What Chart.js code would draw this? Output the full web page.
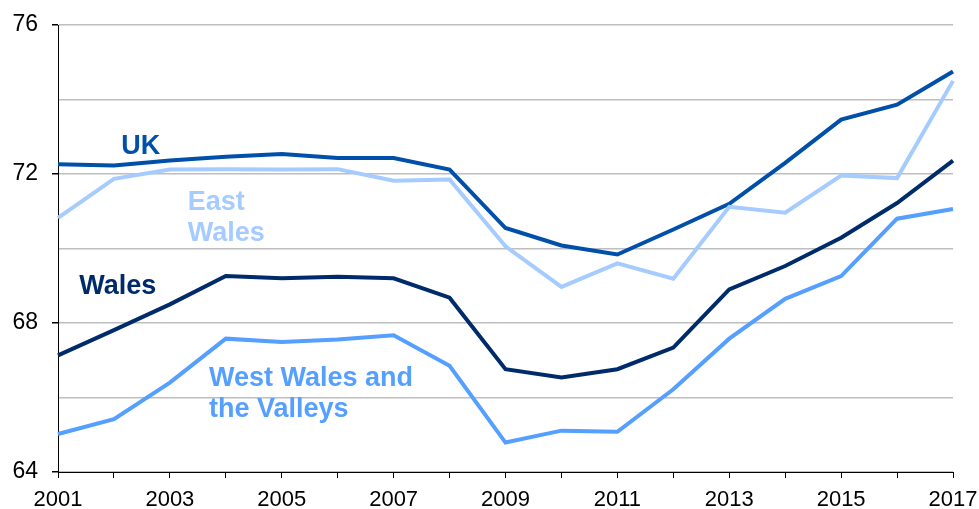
<!DOCTYPE html>
<html>
<head>
<meta charset="utf-8">
<script src="https://cdn.jsdelivr.net/npm/chart.js@4/dist/chart.umd.min.js"></script>
<style>
  html, body { margin: 0; padding: 0; background: #fff; }
  #wrap { width: 979px; height: 509px; }
</style>
</head>
<body>
<div id="wrap"><canvas id="linegraph" width="979" height="509"></canvas></div>
<script>
const years = ['2001','2002','2003','2004','2005','2006','2007','2008','2009','2010','2011','2012','2013','2014','2015','2016','2017'];
const uk        = [72.26, 72.23, 72.36, 72.46, 72.54, 72.43, 72.43, 72.12, 70.55, 70.08, 69.84, 70.51, 71.20, 72.30, 73.46, 73.86, 74.75];
const eastWales = [70.82, 71.87, 72.12, 72.13, 72.12, 72.13, 71.82, 71.85, 70.06, 68.97, 69.60, 69.19, 71.12, 70.96, 71.96, 71.89, 74.50];
const wales     = [67.13, 67.81, 68.50, 69.26, 69.20, 69.24, 69.20, 68.68, 66.76, 66.54, 66.76, 67.34, 68.90, 69.53, 70.29, 71.22, 72.36];
const westWales = [65.02, 65.42, 66.40, 67.58, 67.49, 67.56, 67.67, 66.85, 64.79, 65.11, 65.08, 66.22, 67.58, 68.65, 69.26, 70.80, 71.06];
const yTicks = [64, 68, 72, 76];

const colUK = '#0050AA';
const colEast = '#A6CBFF';
const colWales = '#002B6B';
const colWest = '#559FFF';

// series labels placed inside the plot, anchored in data space
const seriesLabels = [
  { lines: ['UK'], x: 1.13, y: 72.54, color: colUK },
  { lines: ['East', 'Wales'], x: 2.32, y: 71.04, color: colEast },
  { lines: ['Wales'], x: 0.38, y: 68.77, color: colWales },
  { lines: ['West Wales and', 'the Valleys'], x: 2.70, y: 66.30, color: colWest },
];

const labelPlugin = {
  id: 'seriesLabels',
  afterDatasetsDraw(chart) {
    const ctx = chart.ctx;
    const xs = chart.scales.x, ys = chart.scales.y;
    ctx.save();
    ctx.font = 'bold 27px "Liberation Sans", Arial, sans-serif';
    ctx.textAlign = 'left';
    ctx.textBaseline = 'alphabetic';
    seriesLabels.forEach(l => {
      const px = xs.getPixelForValue(l.x);
      const py = ys.getPixelForValue(l.y);
      ctx.fillStyle = l.color;
      l.lines.forEach((t, i) => ctx.fillText(t, px, py + i * 31));
    });
    ctx.restore();
  }
};

const line = (data, color) => ({
  data: data,
  borderColor: color,
  backgroundColor: color,
  borderWidth: 4,
  pointRadius: 0,
  tension: 0,
});

new Chart(document.querySelector('#linegraph').getContext('2d'), {
  type: 'line',
  data: {
    labels: years,
    datasets: [
      line(westWales, colWest),
      line(wales, colWales),
      line(eastWales, colEast),
      line(uk, colUK),
    ],
  },
  options: {
    responsive: false,
    animation: false,
    layout: { padding: { top: 25, right: 0, left: 0, bottom: 0 } },
    plugins: {
      legend: { display: false },
      tooltip: { enabled: false },
    },
    scales: {
      x: {
        offset: false,
        grid: {
          drawOnChartArea: false,
          drawTicks: true,
          tickLength: 6,
          tickColor: '#000',
        },
        border: { color: '#000', width: 1 },
        ticks: {
          autoSkip: false,
          maxRotation: 0,
          padding: 9,
          color: '#000',
          font: { family: '"Liberation Sans", Arial, sans-serif', size: 22 },
          callback: function (v, i) { return i % 2 === 0 ? years[i] : ''; },
        },
        afterFit(scale) {
          scale.height = 37;
          scale.paddingRight = 26;
          scale.paddingLeft = 0;
        },
      },
      y: {
        min: 64,
        max: 76,
        grid: {
          color: '#BEBEBE',
          lineWidth: 1.5,
          drawTicks: true,
          tickLength: 6,
          tickColor: ctx => yTicks.includes(ctx.tick && ctx.tick.value) ? '#000' : 'rgba(0,0,0,0)',
        },
        border: { color: '#000', width: 1 },
        ticks: {
          stepSize: 2,
          padding: 14,
          color: '#000',
          font: { family: '"Liberation Sans", Arial, sans-serif', size: 23 },
          callback: v => yTicks.includes(v) ? String(v) : '',
        },
        afterFit(scale) {
          scale.width = 58;
          scale.paddingTop = 0;
          scale.paddingBottom = 0;
        },
      },
    },
  },
  plugins: [labelPlugin],
});
</script>
</body>
</html>
